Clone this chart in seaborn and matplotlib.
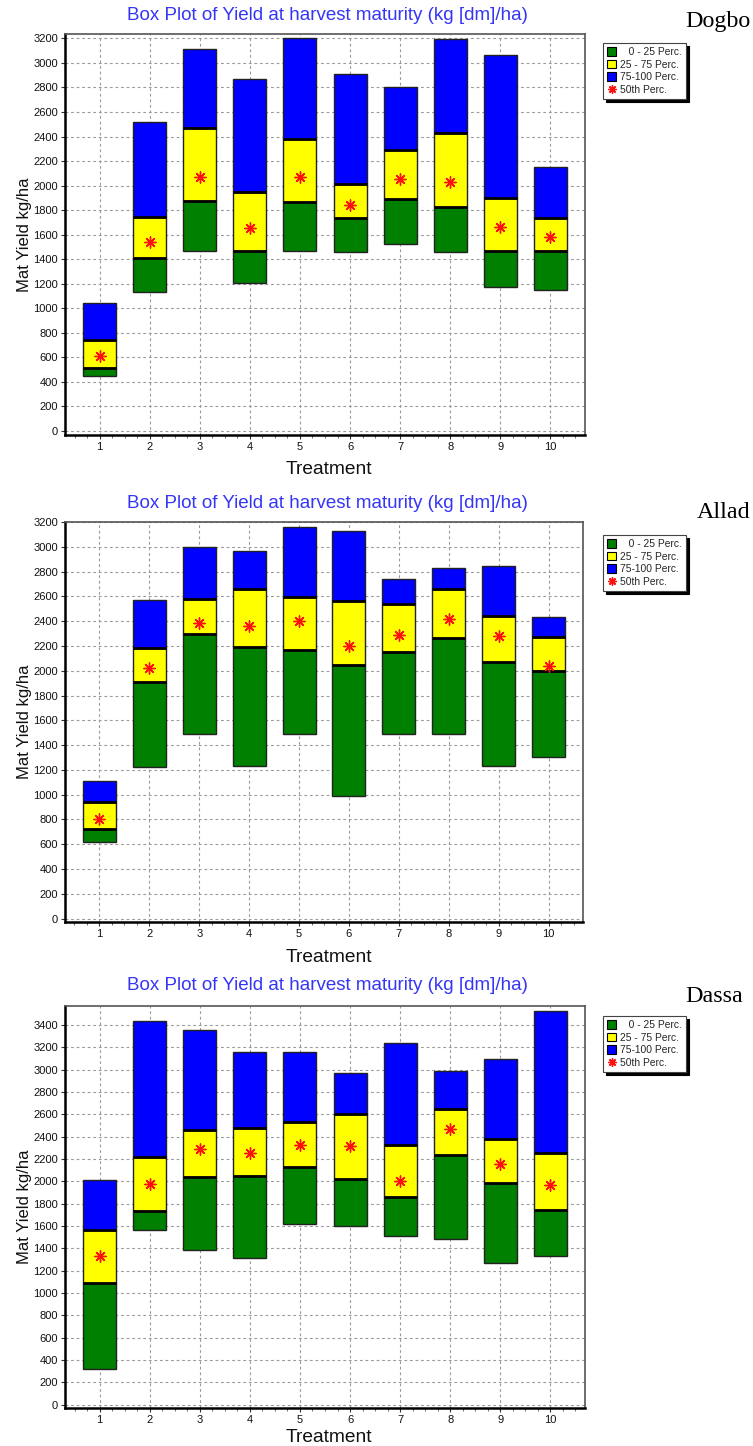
import numpy as np
import pandas as pd
import matplotlib
matplotlib.use("Agg")
import matplotlib.pyplot as plt
import seaborn as sns
from matplotlib.patches import Patch
from matplotlib.lines import Line2D
from matplotlib.ticker import MultipleLocator

# ---------------- data ----------------
treatments = [1, 2, 3, 4, 5, 6, 7, 8, 9, 10]
# site labels as visible in the reference (the second one is cut at the page edge there)
sites = ["Dogbo", "Allad", "Dassa"]

dogbo_min = [445, 1135, 1470, 1210, 1470, 1455, 1525, 1455, 1175, 1145]
dogbo_q1 = [517, 1413, 1878, 1467, 1870, 1734, 1889, 1829, 1470, 1467]
dogbo_med = [611, 1543, 2068, 1652, 2068, 1842, 2057, 2033, 1666, 1579]
dogbo_q3 = [742, 1747, 2467, 1948, 2378, 2014, 2291, 2427, 1902, 1739]
dogbo_max = [1041, 2522, 3114, 2872, 3200, 2913, 2807, 3193, 3065, 2155]

allada_min = [617, 1226, 1493, 1235, 1493, 987, 1493, 1493, 1235, 1307]
allada_q1 = [722, 1908, 2294, 2189, 2164, 2043, 2148, 2261, 2070, 1995]
allada_med = [800, 2024, 2385, 2364, 2399, 2202, 2286, 2418, 2280, 2040]
allada_q3 = [943, 2186, 2580, 2663, 2596, 2561, 2539, 2660, 2442, 2272]
allada_max = [1113, 2574, 3000, 2965, 3162, 3127, 2744, 2825, 2846, 2437]

dassa_min = [320, 1560, 1381, 1312, 1622, 1596, 1506, 1479, 1268, 1327]
dassa_q1 = [1089, 1730, 2043, 2052, 2132, 2022, 1864, 2237, 1989, 1745]
dassa_med = [1327, 1977, 2293, 2252, 2323, 2317, 2004, 2466, 2153, 1968]
dassa_q3 = [1560, 2222, 2460, 2475, 2529, 2600, 2323, 2651, 2377, 2252]
dassa_max = [2013, 3436, 3355, 3158, 3158, 2973, 3239, 2988, 3096, 3522]

yticks_12 = list(range(0, 3201, 200))
yticks_3 = list(range(0, 3401, 200))

title = "Box Plot of Yield at harvest maturity (kg [dm]/ha)"
legend_labels = ["   0 - 25 Perc.", "25 - 75 Perc.", "75-100 Perc.", "50th Perc."]

# ---------------- style ----------------
W, H = 753, 1446
sns.set_style("white")
plt.rcParams["font.family"] = ["Liberation Sans", "DejaVu Sans"]

fig = plt.figure(figsize=(W / 100, H / 100), dpi=100)
fig.patch.set_facecolor("white")

C_GREEN, C_YELLOW, C_BLUE, C_RED = "#008000", "#ffff00", "#0000ff", "#ff1010"

panels = [
    dict(site=sites[0], mn=dogbo_min, q1=dogbo_q1, med=dogbo_med, q3=dogbo_q3, mx=dogbo_max,
         box=(65, 34, 585, 435), ylim=(-33, 3236), yticks=yticks_12,
         title_y=16, site_xy=(685, 21), xlab_y=470, leg_xy=(603, 43)),
    dict(site=sites[1], mn=allada_min, q1=allada_q1, med=allada_med, q3=allada_q3, mx=allada_max,
         box=(65, 522, 583, 922), ylim=(-27, 3200), yticks=yticks_12,
         title_y=503, site_xy=(697, 512), xlab_y=957, leg_xy=(603, 535)),
    dict(site=sites[2], mn=dassa_min, q1=dassa_q1, med=dassa_med, q3=dassa_q3, mx=dassa_max,
         box=(65, 1006, 585, 1408), ylim=(-30, 3570), yticks=yticks_3,
         title_y=985, site_xy=(685, 996), xlab_y=1437, leg_xy=(603, 1016)),
]

bw = 0.66
for p in panels:
    l, t, r, b = p["box"]
    ax = fig.add_axes([l / W, 1 - b / H, (r - l) / W, (b - t) / H])
    df = pd.DataFrame(dict(treatment=treatments, mn=p["mn"], q1=p["q1"], med=p["med"],
                           q3=p["q3"], mx=p["mx"]))
    x = df["treatment"].values
    ax.bar(x, df["q1"] - df["mn"], bottom=df["mn"], width=bw, color=C_GREEN,
           edgecolor="#222222", linewidth=1.0, zorder=3)
    ax.bar(x, df["q3"] - df["q1"], bottom=df["q1"], width=bw, color=C_YELLOW,
           edgecolor="#222222", linewidth=1.0, zorder=3)
    ax.bar(x, df["mx"] - df["q3"], bottom=df["q3"], width=bw, color=C_BLUE,
           edgecolor="#222222", linewidth=1.0, zorder=3)
    # thick separators at quartiles
    for col in ["q1", "q3"]:
        ax.hlines(df[col], x - bw / 2, x + bw / 2, color="black", linewidth=2.0, zorder=4)
    sns.scatterplot(data=df, x="treatment", y="med", marker=(8, 2, 0), s=65,
                    color=C_RED, edgecolor=C_RED, linewidth=1.0, ax=ax, zorder=5, legend=False)

    ax.set_xlim(0.31, 10.69)
    ax.set_ylim(*p["ylim"])
    ax.set_xticks(treatments)
    ax.set_xticklabels([str(v) for v in treatments], fontsize=8, color="#111111")
    ax.set_yticks(p["yticks"])
    ax.set_yticklabels([str(v) for v in p["yticks"]], fontsize=8, color="#111111")
    ax.xaxis.set_minor_locator(MultipleLocator(0.25))
    ax.tick_params(axis="both", which="major", direction="out", length=3, width=0.8,
                   color="#333333", pad=2, bottom=True, left=True)
    ax.tick_params(axis="x", which="minor", direction="out", length=2, width=0.6,
                   color="#555555", bottom=True)
    ax.grid(True, which="major", color="#9a9a9a", linestyle=(0, (2.5, 2.5)), linewidth=0.8, zorder=0)
    ax.set_axisbelow(True)
    for side in ["left", "bottom"]:
        ax.spines[side].set_color("black")
        ax.spines[side].set_linewidth(1.8)
    for side in ["top", "right"]:
        ax.spines[side].set_color("#555555")
        ax.spines[side].set_linewidth(1.2)
    ax.set_xlabel("")
    ax.set_ylabel("Mat Yield kg/ha", fontsize=12, color="#111111", labelpad=1)

    # title, x label, site name
    fig.text(327 / W, 1 - p["title_y"] / H, title, ha="center", va="center",
             fontsize=13.5, color="#3535f5")
    fig.text(329 / W, 1 - p["xlab_y"] / H, "Treatment", ha="center", va="center",
             fontsize=13.8, color="#111111")
    fig.text(p["site_xy"][0] / W, 1 - p["site_xy"][1] / H, p["site"], ha="left", va="center",
             fontsize=17.3, family=["Liberation Serif", "DejaVu Serif"], color="black")

    handles = [Patch(facecolor=C_GREEN, edgecolor="black", linewidth=0.8),
               Patch(facecolor=C_YELLOW, edgecolor="black", linewidth=0.8),
               Patch(facecolor=C_BLUE, edgecolor="black", linewidth=0.8),
               Line2D([], [], marker=(8, 2, 0), color=C_RED, linestyle="none",
                      markersize=6, markeredgewidth=1.0)]
    lg = fig.legend(handles, legend_labels, loc="upper left",
                    bbox_to_anchor=(p["leg_xy"][0] / W, 1 - p["leg_xy"][1] / H),
                    bbox_transform=fig.transFigure, fontsize=7.4, frameon=True,
                    fancybox=False, shadow={"color": "black", "alpha": 1.0},
                    handlelength=0.9, handleheight=0.9, handletextpad=0.4,
                    labelspacing=0.25, borderpad=0.4, borderaxespad=0)
    lg.get_frame().set_edgecolor("#444444")
    lg.get_frame().set_linewidth(0.8)

fig.savefig("out.png", dpi=100)
